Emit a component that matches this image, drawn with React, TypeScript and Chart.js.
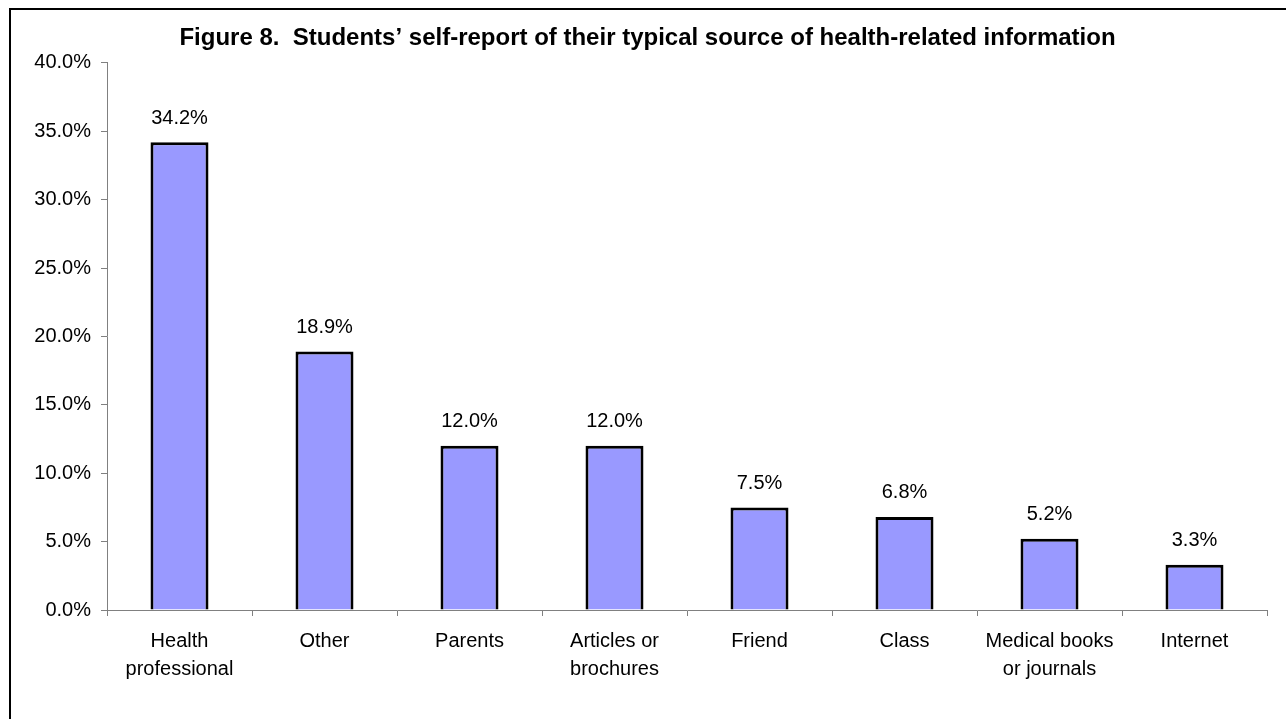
import React, { useEffect, useRef } from "react";
import { Chart, registerables } from "chart.js";

Chart.register(...registerables);

const categories: (string | string[])[] = [
  ["Health", "professional"],
  "Other",
  "Parents",
  ["Articles or", "brochures"],
  "Friend",
  "Class",
  ["Medical books", "or journals"],
  "Internet",
];
const values: number[] = [34.2, 18.9, 12.0, 12.0, 7.5, 6.8, 5.2, 3.3];
const titleText = "Figure 8.  Students\u2019 self-report of their typical source of health-related information";
const yMin = 0;
const yMax = 40;
const yStep = 5;

const FONT = "'Liberation Sans', Arial, sans-serif";

export default function App() {
  const ref = useRef<HTMLCanvasElement | null>(null);

  useEffect(() => {
    const canvas = ref.current;
    if (!canvas) return;

    const framePlugin = {
      id: "frame",
      beforeDraw(chart: any) {
        const ctx = chart.ctx;
        ctx.save();
        ctx.fillStyle = "#ffffff";
        ctx.fillRect(0, 0, chart.width, chart.height);
        ctx.fillStyle = "#000000";
        ctx.fillRect(9, 8, chart.width - 9, 2);
        ctx.fillRect(9, 8, 2, chart.height - 8);
        ctx.restore();
      },
    };

    const labelPlugin = {
      id: "valueLabels",
      afterDatasetsDraw(chart: any) {
        const ctx = chart.ctx;
        const meta = chart.getDatasetMeta(0);
        ctx.save();
        ctx.font = `20px ${FONT}`;
        ctx.fillStyle = "#000000";
        ctx.textAlign = "center";
        ctx.textBaseline = "middle";
        meta.data.forEach((el: any, i: number) => {
          ctx.fillText(values[i].toFixed(1) + "%", el.x, el.y - 24);
        });
        ctx.restore();
      },
    };

    const chart = new Chart(canvas, {
      type: "bar",
      data: {
        labels: categories,
        datasets: [
          {
            data: values,
            backgroundColor: "#9999FF",
            borderColor: "#000000",
            borderWidth: 3,
            categoryPercentage: 1,
            barPercentage: 0.4,
          },
        ],
      },
      options: {
        responsive: false,
        animation: false,
        layout: { padding: { left: 28, right: 19, top: 0, bottom: 0 } },
        plugins: {
          legend: { display: false },
          tooltip: { enabled: false },
          title: {
            display: true,
            text: titleText,
            color: "#000000",
            font: { family: FONT, size: 24, weight: "bold", lineHeight: 1.2 },
            padding: { top: 24, bottom: 10 },
          },
        },
        scales: {
          x: {
            grid: {
              offset: true,
              drawOnChartArea: false,
              drawTicks: true,
              tickLength: 6,
              color: "#808080",
            },
            border: { color: "#808080", width: 1 },
            ticks: {
              color: "#000000",
              font: { family: FONT, size: 20, lineHeight: 1.375 },
              padding: 12,
              maxRotation: 0,
              autoSkip: false,
            },
            afterFit(scale: any) {
              scale.height = 109;
            },
          },
          y: {
            min: yMin,
            max: yMax,
            grid: {
              drawOnChartArea: false,
              drawTicks: true,
              tickLength: 6,
              color: "#808080",
            },
            border: { color: "#808080", width: 1 },
            ticks: {
              stepSize: yStep,
              color: "#000000",
              font: { family: FONT, size: 20 },
              padding: 10,
              callback: (v: any) => Number(v).toFixed(1) + "%",
            },
            afterFit(scale: any) {
              scale.width = 79;
            },
          },
        },
      },
      plugins: [framePlugin, labelPlugin],
    });

    return () => chart.destroy();
  }, []);

  return (
    <div style={{ position: "fixed", left: 0, top: 0, width: 1286, height: 719 }}>
      <canvas ref={ref} width={1286} height={719} style={{ display: "block" }} />
    </div>
  );
}
